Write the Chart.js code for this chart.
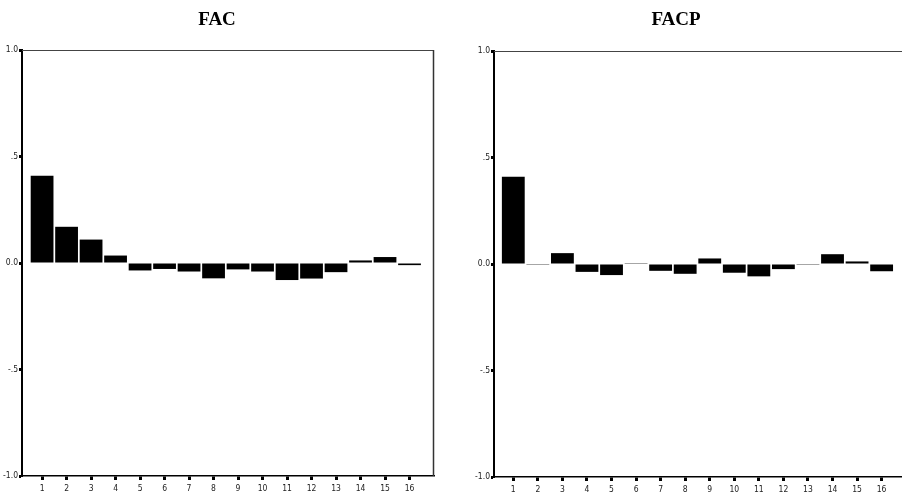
<!DOCTYPE html>
<html>
<head>
<meta charset="utf-8">
<script src="https://cdn.jsdelivr.net/npm/chart.js@4/dist/chart.umd.min.js"></script>
<style>
  html, body { margin: 0; padding: 0; background: #fff; overflow: hidden; }
  #wrap { position: relative; width: 902px; height: 501px; }
  .box { position: absolute; top: 0; height: 501px; }
  #b1 { left: 0; width: 450px; }
  #b2 { left: 450px; width: 452px; }
</style>
</head>
<body>
<div id="wrap">
  <div class="box" id="b1"><canvas id="c1"></canvas></div>
  <div class="box" id="b2"><canvas id="c2"></canvas></div>
</div>
<script>
// ---- data ----
const lags = [1, 2, 3, 4, 5, 6, 7, 8, 9, 10, 11, 12, 13, 14, 15, 16];
const facValues  = [0.41, 0.17, 0.11, 0.035, -0.035, -0.028, -0.04, -0.072, -0.03, -0.04, -0.08, -0.073, -0.043, 0.012, 0.028, -0.01];
const facpValues = [0.41, -0.004, 0.051, -0.037, -0.052, 0.004, -0.032, -0.046, 0.026, -0.041, -0.058, -0.024, -0.004, 0.046, 0.012, -0.034];
const yTickValues = [-1, -0.5, 0, 0.5, 1];
const yTickLabels = ['-1.0', '-.5', '0.0', '.5', '1.0'];
const titles = ['FAC', 'FACP'];

const tickFont = { family: "'DejaVu Sans Condensed', 'Liberation Sans', sans-serif", size: 8.5 };

const framePlugin = {
  id: 'frame',
  afterDraw(chart, args, opts) {
    const a = chart.chartArea, ctx = chart.ctx;
    ctx.save();
    ctx.strokeStyle = '#444';
    ctx.lineWidth = 1;
    ctx.beginPath();
    ctx.moveTo(a.left, a.top + 0.5);
    ctx.lineTo(a.right, a.top + 0.5);
    ctx.stroke();
    if (opts.right) {
      ctx.lineWidth = 1.5;
      ctx.strokeStyle = '#333';
      ctx.beginPath();
      ctx.moveTo(a.right - 0.5, a.top);
      ctx.lineTo(a.right - 0.5, a.bottom);
      ctx.stroke();
    }
    ctx.restore();
  }
};

function makeChart(id, title, values, cfg) {
  return new Chart(document.getElementById(id), {
    type: 'bar',
    data: {
      datasets: [{
        data: lags.map((l, i) => ({ x: l, y: values[i] })),
        backgroundColor: '#000',
        borderWidth: 0,
        barPercentage: 0.93,
        categoryPercentage: 1
      }]
    },
    plugins: [framePlugin],
    options: {
      responsive: true,
      maintainAspectRatio: false,
      animation: false,
      layout: { padding: { left: 0, right: cfg.padRight, top: 0, bottom: 0 } },
      plugins: {
        legend: { display: false },
        tooltip: { enabled: false },
        frame: { right: cfg.rightBorder },
        title: {
          display: true,
          text: title,
          color: '#000',
          font: { family: "'Liberation Serif', 'DejaVu Serif', serif", size: 19, weight: 'bold', lineHeight: 1.2 },
          padding: { top: 9, bottom: cfg.titleBottom }
        }
      },
      scales: {
        x: {
          type: 'linear',
          min: cfg.xMin,
          max: cfg.xMax,
          offset: false,
          afterBuildTicks(scale) { scale.ticks = lags.map(v => ({ value: v })); },
          afterFit(scale) { scale.height = cfg.xHeight; },
          border: { display: true, color: '#000', width: 1.5 },
          grid: { display: true, offset: false, drawOnChartArea: false, drawTicks: true, tickLength: 4, tickWidth: 3, tickColor: '#000' },
          ticks: { color: '#222', font: tickFont, padding: 4, maxRotation: 0, autoSkip: false,
                   callback: v => String(v) }
        },
        y: {
          min: -1,
          max: 1,
          afterBuildTicks(scale) { scale.ticks = yTickValues.map(v => ({ value: v })); },
          afterFit(scale) { scale.width = cfg.yWidth; },
          border: { display: true, color: '#000', width: 2 },
          grid: { display: true, drawOnChartArea: false, drawTicks: true, tickLength: 3, tickWidth: 3, tickColor: '#000' },
          ticks: { color: '#222', font: tickFont, padding: 1,
                   callback: (v) => yTickLabels[yTickValues.indexOf(v)] }
        }
      }
    }
  });
}

makeChart('c1', titles[0], facValues,
  { xMin: 0.18, xMax: 17.0, yWidth: 22, xHeight: 25, padRight: 16, titleBottom: 18.2, rightBorder: true });
makeChart('c2', titles[1], facpValues,
  { xMin: 0.214, xMax: 16.83, yWidth: 44, xHeight: 24, padRight: 0, titleBottom: 19.2, rightBorder: false });
</script>
</body>
</html>
